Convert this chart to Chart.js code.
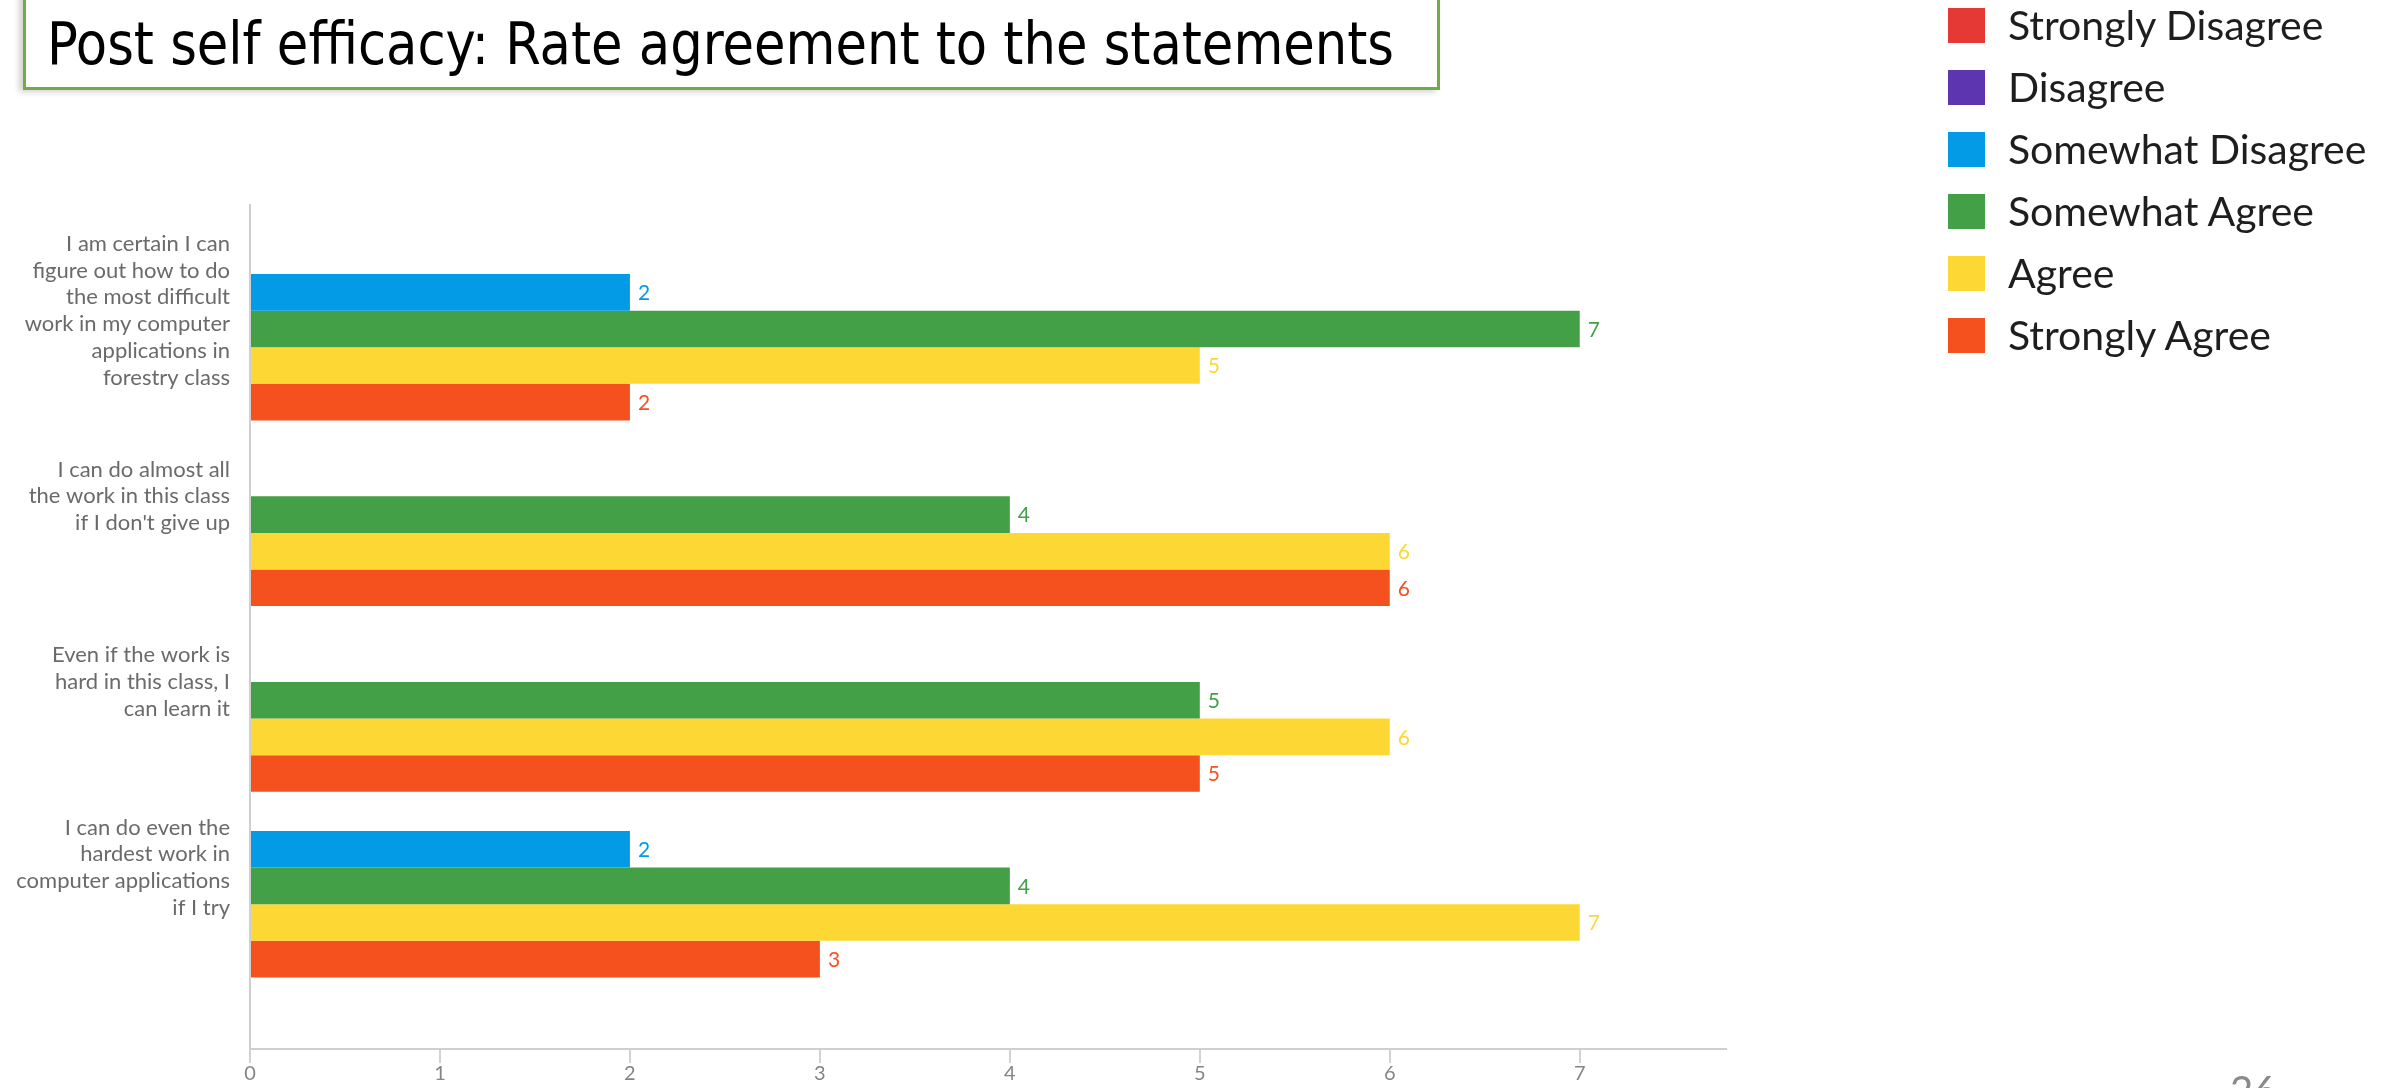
<!DOCTYPE html>
<html>
<head>
<meta charset="utf-8">
<title>Post self efficacy</title>
<script src="https://cdn.jsdelivr.net/npm/chart.js"></script>
<style>
  html, body { margin: 0; padding: 0; background: #fff; }
  body { width: 2395px; height: 1088px; overflow: hidden; position: relative; }
  #wrap { position: absolute; left: 0; top: 0; width: 2395px; height: 1088px; }
  #titleBox {
    position: absolute; left: 23px; top: -10px; width: 1417px; height: 100px;
    border: 3px solid #70ad47; box-sizing: border-box; background: #fff;
    box-shadow: -4px 2px 6px rgba(0,0,0,0.18);
  }
  #titleText {
    position: absolute; left: 21px; top: 17px; white-space: nowrap;
    font-family: "Liberation Sans Narrow", "DejaVu Sans Condensed", sans-serif;
    font-size: 58px; color: #000; transform-origin: 0 0;
  }
  #legend { position: absolute; left: 1948px; top: 8px; font-family: Lato, sans-serif; }
  .row { position: relative; height: 62px; }
  .sw { position: absolute; left: 0; top: 0; width: 37px; height: 35px; }
  .lab { position: absolute; left: 60px; top: -8px; font-size: 41px; color: #1e1e1e; white-space: nowrap; }
  #pageNum { position: absolute; left: 2230px; top: 1066px; font-family: Lato, sans-serif; font-size: 40px; color: #8a8a8a; }
</style>
</head>
<body>
<div id="wrap"><canvas id="chart"></canvas></div>
<div id="titleBox"><span id="titleText">Post self efficacy: Rate agreement to the statements</span></div>
<div id="legend"></div>
<div id="pageNum">26</div>

<script>
// categories (statements), one array of lines each
const categories = [
  ['I am certain I can', 'figure out how to do', 'the most difficult', 'work in my computer', 'applications in', 'forestry class'],
  ['I can do almost all', 'the work in this class', "if I don't give up"],
  ['Even if the work is', 'hard in this class, I', 'can learn it'],
  ['I can do even the', 'hardest work in', 'computer applications', 'if I try']
];

const seriesNames = ['Strongly Disagree', 'Disagree', 'Somewhat Disagree', 'Somewhat Agree', 'Agree', 'Strongly Agree'];
const seriesColors = ['#e53935', '#5e35b1', '#039be5', '#43a047', '#fdd835', '#f4511e'];

// counts per statement
const stronglyDisagree = [0, 0, 0, 0];
const disagree         = [0, 0, 0, 0];
const somewhatDisagree = [2, 0, 0, 2];
const somewhatAgree    = [7, 4, 5, 4];
const agree            = [5, 6, 6, 7];
const stronglyAgree    = [2, 6, 5, 3];

const xTicks = [0, 1, 2, 3, 4, 5, 6, 7];

const seriesValues = [stronglyDisagree, disagree, somewhatDisagree, somewhatAgree, agree, stronglyAgree];

// legend (html, sits top right like the slide)
const legendEl = document.getElementById('legend');
seriesNames.forEach((name, i) => {
  const row = document.createElement('div');
  row.className = 'row';
  row.innerHTML = '<div class="sw" style="background:' + seriesColors[i] + '"></div><div class="lab">' + name + '</div>';
  legendEl.appendChild(row);
});

// squeeze title to the slide width
const t = document.getElementById('titleText');
t.style.transform = 'scaleX(' + (1347 / t.getBoundingClientRect().width) + ')';

// value labels at the end of each bar
const valueLabels = {
  id: 'valueLabels',
  afterDatasetsDraw(chart) {
    const ctx = chart.ctx;
    ctx.save();
    ctx.font = '21px Lato, sans-serif';
    ctx.textBaseline = 'middle';
    ctx.textAlign = 'left';
    chart.data.datasets.forEach((ds, di) => {
      chart.getDatasetMeta(di).data.forEach((bar, i) => {
        const v = ds.data[i].x;
        if (!v) return;
        ctx.fillStyle = ds.backgroundColor;
        ctx.fillText(v, bar.x + 8, bar.y + 1);
      });
    });
    ctx.restore();
  }
};

const datasets = seriesNames.map((name, i) => ({
  label: name,
  data: seriesValues[i].map((v, j) => ({ x: v, y: j })),
  backgroundColor: seriesColors[i],
  borderWidth: 0,
  categoryPercentage: 1.183,
  barPercentage: 1
}));

// keep long tick labels from shrinking the plot
function noPad(scale) {
  scale.paddingTop = 0;
  scale.paddingBottom = 0;
}

new Chart(document.getElementById('chart'), {
  type: 'bar',
  data: { datasets: datasets },
  options: {
    indexAxis: 'y',
    responsive: true,
    maintainAspectRatio: false,
    animation: false,
    events: [],
    layout: { padding: { top: 205, right: 669, left: 0, bottom: 0 } },
    plugins: { legend: { display: false }, tooltip: { enabled: false } },
    scales: {
      x: {
        type: 'linear',
        min: 0,
        max: 7.77,
        afterBuildTicks: (scale) => { scale.ticks = xTicks.map(v => ({ value: v })); },
        afterFit: (scale) => { scale.height = 39; scale.paddingLeft = 0; scale.paddingRight = 0; },
        grid: { drawOnChartArea: false, drawTicks: true, tickLength: 14, color: '#d2d2d2', lineWidth: 2 },
        border: { display: true, color: '#cfcfcf', width: 2 },
        ticks: { font: { family: 'Lato', size: 20, lineHeight: 1.1 }, color: '#858585', padding: 0, maxRotation: 0 }
      },
      y: {
        type: 'linear',
        offset: false,
        reverse: true,
        min: -0.569,
        max: 3.977,
        afterBuildTicks: (scale) => { scale.ticks = categories.map((c, i) => ({ value: i })); },
        afterFit: (scale) => { scale.width = 250; noPad(scale); },
        grid: { display: false, drawTicks: false },
        border: { display: true, color: '#cfcfcf', width: 2 },
        ticks: {
          autoSkip: false,
          padding: 20,
          color: '#6a6a6a',
          font: { family: 'Lato', size: 22, lineHeight: 1.214 },
          callback: (v) => categories[v]
        }
      }
    }
  },
  plugins: [valueLabels]
});
</script>
</body>
</html>
